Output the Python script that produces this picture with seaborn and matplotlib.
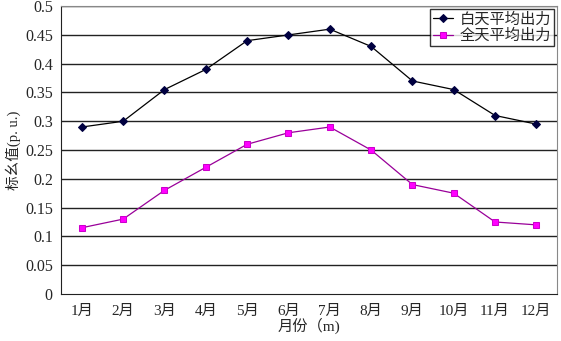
import matplotlib
matplotlib.use('Agg')
import matplotlib.pyplot as plt
import seaborn as sns
import pandas as pd
import numpy as np

# monthly values
months = ['1月', '2月', '3月', '4月', '5月', '6月', '7月', '8月', '9月', '10月', '11月', '12月']
day_avg = [0.29, 0.30, 0.355, 0.39, 0.44, 0.45, 0.46, 0.43, 0.37, 0.355, 0.31, 0.295]
all_avg = [0.115, 0.13, 0.18, 0.22, 0.26, 0.28, 0.29, 0.25, 0.19, 0.175, 0.125, 0.12]
series_names = ['白天平均出力', '全天平均出力']

sns.set_style('white')
plt.rcParams['font.family'] = ['Liberation Serif', 'Noto Sans CJK SC', 'DejaVu Sans']

fig = plt.figure(figsize=(5.61, 3.41), dpi=100)
ax = fig.add_axes([0.109, 0.138, 0.884, 0.844])

x = np.arange(len(months))
sns.lineplot(x=x, y=day_avg, ax=ax, color='#000000', lw=0.9, marker='D',
             markersize=4, markerfacecolor='#000040', markeredgecolor='#000040',
             label=series_names[0])
sns.lineplot(x=x, y=all_avg, ax=ax, color='#990099', lw=0.9, marker='s',
             markersize=5, markerfacecolor='#ff00ff', markeredgecolor='#cc00cc',
             label=series_names[1])

ax.set_xlim(-0.5, len(months) - 0.5)
ax.set_ylim(0, 0.5)
ax.set_yticks(np.arange(0, 0.51, 0.05))
ax.set_yticklabels(['0', '0.05', '0.1', '0.15', '0.2', '0.25', '0.3', '0.35', '0.4', '0.45', '0.5'])
ax.set_xticks(x)
ax.set_xticklabels(months)
ax.set_xticks(np.arange(0.5, len(months) - 0.5, 1), minor=True)
ax.tick_params(axis='x', which='major', length=0, labelsize=11, pad=8)
ax.tick_params(axis='x', which='minor', direction='in', length=4, width=1, color='#333333')
ax.tick_params(axis='y', length=0, labelsize=11.5, pad=6)

for v in np.arange(0.05, 0.51, 0.05):
    ax.axhline(v, color='#222222', lw=1.0, zorder=0)

ax.spines['left'].set_color('#222222')
ax.spines['bottom'].set_color('#222222')
ax.spines['top'].set_color('#888888')
ax.spines['right'].set_color('#888888')

ax.set_xlabel('月份（m)', fontsize=11, labelpad=0)
ax.set_ylabel('标幺值(p. u.)', fontsize=10.5, labelpad=3)

leg = ax.legend(loc='upper right', fontsize=11, frameon=True, fancybox=False,
                borderpad=0.2, handlelength=1.3, handletextpad=0.4,
                labelspacing=0.15, borderaxespad=0.2)
leg.get_frame().set_edgecolor('#000000')
leg.get_frame().set_linewidth(1.0)

fig.savefig('out.png', dpi=100)
